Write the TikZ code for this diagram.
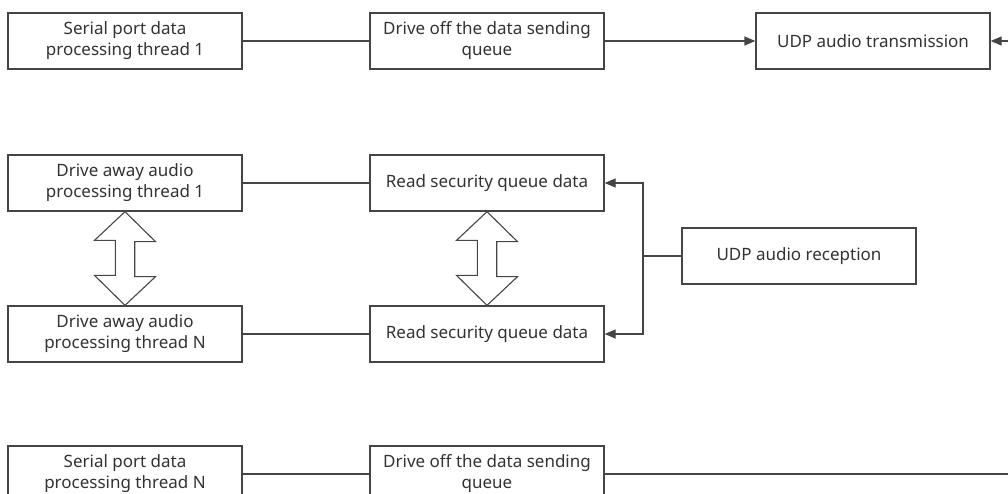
\documentclass[tikz,border=0pt]{standalone}
\usepackage{fontspec}
\setmainfont{Noto Sans}
\usetikzlibrary{arrows.meta}
\definecolor{linegray}{HTML}{454545}
\definecolor{textgray}{HTML}{333333}
\tikzset{
  box/.style={draw=linegray, line width=1.3pt, fill=white, minimum width=234pt, minimum height=56pt,
    inner sep=0pt, align=center, text=textgray, font=\fontsize{17}{21}\selectfont},
  link/.style={draw=linegray, line width=1.3pt},
  flow/.style={link, -{Triangle[length=11pt,width=9pt]}},
  twoway/.style={draw=linegray, line width=1.1pt, fill=white, line join=miter}
}
\begin{document}
\begin{tikzpicture}[x=1pt,y=-1pt]
\useasboundingbox (0,0) rectangle (1008,493);

% sending chain, first thread
\node[box] (ser1) at (125,41) {Serial port data\\processing thread 1};
\node[box] (send1) at (487,41) {Drive off the data sending\\queue};
\node[box] (udptx) at (873,41) {UDP audio transmission};

% receiving chain
\node[box] (drv1) at (125,183) {Drive away audio\\processing thread 1};
\node[box] (read1) at (487,183) {Read security queue data};
\node[box] (udprx) at (799,256) {UDP audio reception};
\node[box] (drvN) at (125,334) {Drive away audio\\processing thread N};
\node[box] (readN) at (487,334) {Read security queue data};

% sending chain, last thread
\node[box] (serN) at (125,474) {Serial port data\\processing thread N};
\node[box] (sendN) at (487,474) {Drive off the data sending\\queue};

% connectors
\draw[link] (ser1) -- (send1);
\draw[flow] (send1) -- (udptx);
\draw[link] (drv1) -- (read1);
\draw[link] (drvN) -- (readN);
\draw[link] (serN) -- (sendN);
\coordinate (jn) at (643,256);
\draw[link] (udprx.west) -- (jn);
\draw[flow] (jn) |- (read1.east);
\draw[flow] (jn) |- (readN.east);
\coordinate (edge) at (1040,474);
\draw[flow] (sendN.east) -- (edge) |- (udptx.east);

% two-way block arrows between the thread pairs
\foreach \a/\b in {drv1/drvN, read1/readN}{
  \draw[twoway] (\a.south) -- ++(30.5,30) -- ++(-20.8,0) -- ++(0,35) -- ++(20.8,0)
    -- (\b.north) -- ++(-30.5,-30) -- ++(20.8,0) -- ++(0,-35) -- ++(-20.8,0) -- cycle;
}
\end{tikzpicture}
\end{document}
